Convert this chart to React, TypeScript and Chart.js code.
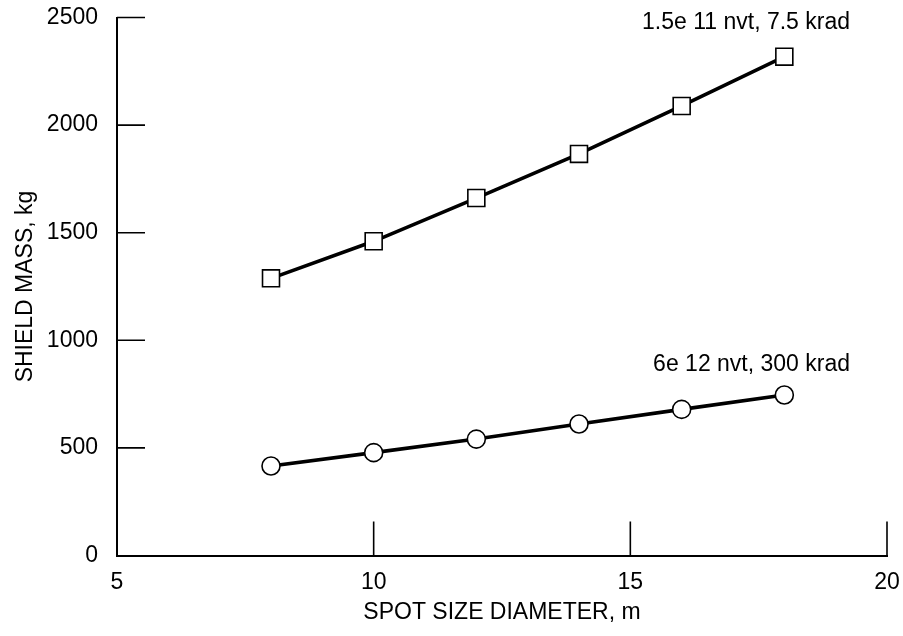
import React, { useEffect, useRef } from "react";
import { Chart, registerables } from "chart.js";

Chart.register(...registerables);

const spotSizes = [8, 10, 12, 14, 16, 18];
const massLowDose = [1288, 1460, 1661, 1866, 2089, 2318];
const massHighDose = [416, 478, 541, 611, 679, 746];
const seriesLabels = ["1.5e 11 nvt, 7.5 krad", "6e 12 nvt, 300 krad"];
const labelAnchorX = [19.28, 19.28];
const labelAnchorY = [2474, 885];
const xTickValues = [10, 15, 20];
const yTickValues = [500, 1000, 1500, 2000, 2500];

const FONT = "'Liberation Sans', Arial, Helvetica, sans-serif";
const FS = 23;

const inwardTicks = {
  id: "inwardTicks",
  afterDatasetsDraw(chart: any) {
    const { ctx, chartArea, scales } = chart;
    ctx.save();
    ctx.strokeStyle = "#000";
    ctx.lineWidth = 1.6;
    ctx.beginPath();
    for (const v of xTickValues) {
      const x = scales.x.getPixelForValue(v);
      ctx.moveTo(x, chartArea.bottom);
      ctx.lineTo(x, chartArea.bottom - 34);
    }
    for (const v of yTickValues) {
      const y = scales.y.getPixelForValue(v);
      ctx.moveTo(chartArea.left, y);
      ctx.lineTo(chartArea.left + 28, y);
    }
    ctx.stroke();
    ctx.fillStyle = "#000";
    ctx.font = `${FS}px ${FONT}`;
    ctx.textAlign = "right";
    ctx.textBaseline = "middle";
    seriesLabels.forEach((t, i) => {
      ctx.fillText(
        t,
        scales.x.getPixelForValue(labelAnchorX[i]),
        scales.y.getPixelForValue(labelAnchorY[i])
      );
    });
    ctx.restore();
  },
};

export default function App() {
  const ref = useRef<HTMLCanvasElement | null>(null);
  useEffect(() => {
    if (!ref.current) return;
    const chart = new Chart(ref.current, {
      type: "line",
      data: {
        datasets: [
          {
            label: seriesLabels[0],
            data: spotSizes.map((x, i) => ({ x, y: massLowDose[i] })),
            borderColor: "#000",
            borderWidth: 3.6,
            pointStyle: "rect",
            pointRadius: 12,
            pointBorderWidth: 1.6,
            pointBackgroundColor: "#fff",
            pointBorderColor: "#000",
          },
          {
            label: seriesLabels[1],
            data: spotSizes.map((x, i) => ({ x, y: massHighDose[i] })),
            borderColor: "#000",
            borderWidth: 3.6,
            pointStyle: "circle",
            pointRadius: 9,
            pointBorderWidth: 1.6,
            pointBackgroundColor: "#fff",
            pointBorderColor: "#000",
          },
        ],
      },
      options: {
        animation: false,
        responsive: false,
        maintainAspectRatio: false,
        layout: { padding: { top: 17.5, right: 16, left: 0, bottom: 0 } },
        plugins: { legend: { display: false }, tooltip: { enabled: false } },
        scales: {
          x: {
            type: "linear",
            min: 5,
            max: 20,
            afterFit: (s: any) => {
              s.height = 80.5;
              s.paddingLeft = 0;
              s.paddingRight = 0;
            },
            ticks: {
              stepSize: 5,
              color: "#000",
              padding: 13,
              font: { family: FONT, size: FS },
              callback: (v: any) => String(v),
            },
            grid: { display: false, drawTicks: false },
            border: { display: true, color: "#000", width: 2 },
            title: {
              display: true,
              text: "SPOT SIZE DIAMETER, m",
              color: "#000",
              font: { family: FONT, size: FS },
              padding: { top: 0, bottom: 10 },
            },
          },
          y: {
            type: "linear",
            min: 0,
            max: 2500,
            afterFit: (s: any) => {
              s.width = 117;
              s.paddingTop = 0;
              s.paddingBottom = 0;
            },
            ticks: {
              stepSize: 500,
              color: "#000",
              padding: 19,
              font: { family: FONT, size: FS },
              callback: (v: any) => String(v),
            },
            grid: { display: false, drawTicks: false },
            border: { display: true, color: "#000", width: 2 },
            title: {
              display: true,
              text: "SHIELD MASS, kg",
              color: "#000",
              font: { family: FONT, size: FS },
              padding: { top: 12, bottom: 0 },
            },
          },
        },
      },
      plugins: [inwardTicks],
    });
    return () => chart.destroy();
  }, []);
  return (
    <div style={{ position: "fixed", left: 0, top: 0, width: 903, height: 636, background: "#fff" }}>
      <canvas ref={ref} width={903} height={636} style={{ display: "block" }} />
    </div>
  );
}
